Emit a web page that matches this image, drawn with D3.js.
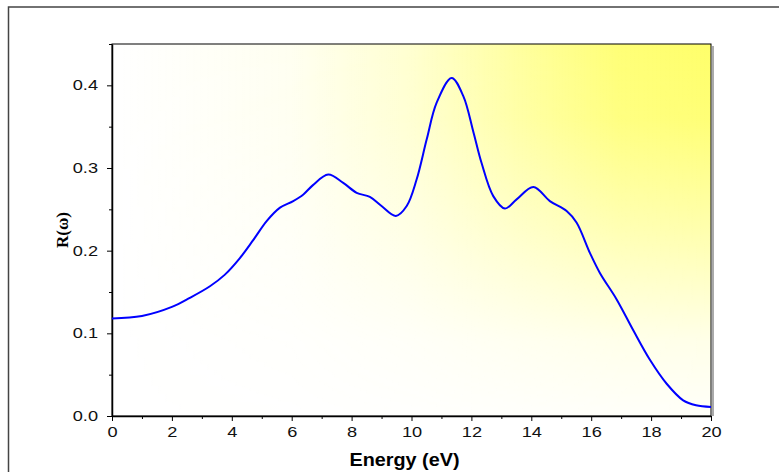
<!DOCTYPE html>
<html>
<head>
<meta charset="utf-8">
<script src="https://cdn.jsdelivr.net/npm/d3@7"></script>
<style>
body { margin: 0; background: #fff; }
svg { display: block; }
.axis path, .axis line { stroke: #000; }
</style>
</head>
<body>
<div class="chart"></div>
<script>
var svgWidth = 779;
var svgHeight = 472;

var margin = { top: 44, right: 68, bottom: 56, left: 112 };
var width = svgWidth - margin.left - margin.right;
var height = svgHeight - margin.top - margin.bottom;

// data
var energy = [0, 1.0, 2.0, 2.6, 3.27, 3.77, 4.27, 4.72, 5.17, 5.61, 6.05, 6.39, 6.7, 7.22, 7.72,
    8.17, 8.61, 9.0, 9.48, 9.84, 10.17, 10.51, 10.84, 11.34, 11.73, 12.07, 12.34, 12.73, 13.12,
    13.51, 14.07, 14.62, 15.18, 15.51, 15.96, 16.29, 16.85, 17.40, 17.96, 18.52, 19.07, 19.5, 20];
var reflect = [0.118, 0.121, 0.132, 0.143, 0.157, 0.171, 0.191, 0.213, 0.236, 0.252, 0.260, 0.268, 0.279, 0.292, 0.282,
    0.270, 0.265, 0.254, 0.242, 0.254, 0.286, 0.335, 0.379, 0.409, 0.387, 0.343, 0.306, 0.266, 0.251,
    0.262, 0.277, 0.260, 0.248, 0.234, 0.197, 0.173, 0.141, 0.104, 0.068, 0.039, 0.019, 0.013, 0.011];
var xTicks = [0, 2, 4, 6, 8, 10, 12, 14, 16, 18, 20];
var yTicks = [0.0, 0.1, 0.2, 0.3, 0.4];

var data = energy.map(function (e, i) { return { e: e, r: reflect[i] }; });

var stretch = 1.3; // the original picture's text is wide

var svg = d3.select(".chart").append("svg")
    .attr("width", svgWidth)
    .attr("height", svgHeight);

// outer frame
svg.append("rect")
    .attr("x", 8.5).attr("y", 7)
    .attr("width", 800).attr("height", 500)
    .attr("fill", "none")
    .attr("stroke", "#444")
    .attr("stroke-width", 1.5);

// background: yellow fading to the left, masked to fade downward
var defs = svg.append("defs");
var hGrad = defs.append("linearGradient")
    .attr("id", "hgrad")
    .attr("x1", 0).attr("x2", 1).attr("y1", 0).attr("y2", 0);
[[0, 0], [0.3, 0.1], [0.5, 0.32], [0.7, 0.68], [0.85, 0.92], [1, 1]].forEach(function (s) {
    hGrad.append("stop").attr("offset", s[0]).attr("stop-color", "#ffff6a").attr("stop-opacity", s[1]);
});
var vGrad = defs.append("linearGradient")
    .attr("id", "vgrad")
    .attr("x1", 0).attr("x2", 0).attr("y1", 0).attr("y2", 1);
[[0, 1], [0.2, 0.92], [0.5, 0.55], [0.8, 0.15], [1, 0.04]].forEach(function (s) {
    vGrad.append("stop").attr("offset", s[0]).attr("stop-color", "#fff").attr("stop-opacity", s[1]);
});
defs.append("mask")
    .attr("id", "vmask")
    .attr("maskContentUnits", "objectBoundingBox")
    .append("rect")
    .attr("width", 1).attr("height", 1)
    .attr("fill", "url(#vgrad)");

var chartGroup = svg.append("g")
    .attr("transform", `translate(${margin.left}, ${margin.top})`);

// shadow on the right
chartGroup.append("line")
    .attr("x1", width + 2).attr("x2", width + 2)
    .attr("y1", 2).attr("y2", height)
    .attr("stroke", "#aaa").attr("stroke-width", 2);

chartGroup.append("rect")
    .attr("width", width).attr("height", height)
    .attr("fill", "#fff");
chartGroup.append("rect")
    .attr("width", width).attr("height", height)
    .attr("fill", "url(#hgrad)")
    .attr("mask", "url(#vmask)");
chartGroup.append("rect")
    .attr("width", width).attr("height", height)
    .attr("fill", "none")
    .attr("stroke", "#000")
    .attr("stroke-width", 1);

var xScale = d3.scaleLinear().domain([0, 20]).range([0, width]);
var yScale = d3.scaleLinear().domain([0, 0.45]).range([height, 0]);

// minor ticks
chartGroup.append("g")
    .attr("class", "axis")
    .attr("transform", `translate(0, ${height})`)
    .call(d3.axisBottom(xScale).tickValues(d3.range(1, 20, 2)).tickSize(3).tickFormat(""))
    .call(g => g.select(".domain").remove());
chartGroup.append("g")
    .attr("class", "axis")
    .call(d3.axisLeft(yScale).tickValues([0.05, 0.15, 0.25, 0.35, 0.45]).tickSize(3).tickFormat(""))
    .call(g => g.select(".domain").remove());

// major axes
var xAxis = chartGroup.append("g")
    .attr("class", "axis")
    .attr("transform", `translate(0, ${height})`)
    .call(d3.axisBottom(xScale).tickValues(xTicks).tickSizeInner(5).tickSizeOuter(0).tickPadding(6));
xAxis.select(".domain").attr("stroke-width", 1.5);
xAxis.selectAll("text")
    .attr("font-family", "'Liberation Sans', Arial, sans-serif")
    .attr("font-size", 14)
    .attr("fill", "#111")
    .attr("transform", `scale(${stretch},1)`);

var yAxis = chartGroup.append("g")
    .attr("class", "axis")
    .call(d3.axisLeft(yScale).tickValues(yTicks).tickFormat(d3.format(".1f")).tickSizeInner(5).tickSizeOuter(0).tickPadding(4));
yAxis.select(".domain").attr("stroke-width", 1.5);
yAxis.selectAll("text")
    .attr("font-family", "'Liberation Sans', Arial, sans-serif")
    .attr("font-size", 14)
    .attr("fill", "#111")
    .attr("x", -14 / stretch)
    .attr("transform", `scale(${stretch},1)`);

var line = d3.line()
    .x(d => xScale(d.e))
    .y(d => yScale(d.r))
    .curve(d3.curveCatmullRom.alpha(0.5));

chartGroup.append("path")
    .datum(data)
    .attr("d", line)
    .attr("fill", "none")
    .attr("stroke", "#0000ff")
    .attr("stroke-width", 2);

// axis labels
chartGroup.append("text")
    .attr("transform", `translate(${width / 2 - 7}, ${height + 50}) scale(1.1,1)`)
    .attr("text-anchor", "middle")
    .style("font-family", "'Liberation Sans', Arial, sans-serif")
    .style("font-weight", "bold")
    .style("font-size", "18px")
    .text("Energy (eV)");

chartGroup.append("text")
    .attr("transform", "rotate(-90)")
    .attr("x", -(height / 2))
    .attr("y", -44)
    .attr("text-anchor", "middle")
    .style("font-family", "'Liberation Serif', 'Times New Roman', serif")
    .style("font-weight", "bold")
    .style("font-size", "17px")
    .text("R(ω)");
</script>
</body>
</html>
